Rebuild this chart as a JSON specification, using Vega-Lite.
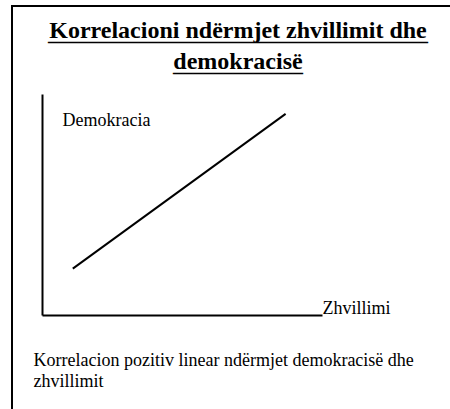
{
  "$schema": "https://vega.github.io/schema/vega-lite/v6.json",
  "width": 440,
  "height": 405,
  "autosize": {"type": "none"},
  "padding": {"left": 12, "top": 6, "right": -2, "bottom": -2},
  "background": "white",
  "config": {"view": {"stroke": "black", "strokeWidth": 2}, "font": "Liberation Serif"},
  "title": {
    "text": ["Korrelacioni ndërmjet zhvillimit dhe", "demokracisë"],
    "subtitle": ["______________________________________", "_____________"],
    "font": "Liberation Serif",
    "fontSize": 24,
    "fontWeight": "bold",
    "color": "black",
    "subtitleFont": "Liberation Serif",
    "subtitleFontSize": 20,
    "subtitleFontWeight": "bold",
    "subtitleColor": "black",
    "subtitleLineHeight": 31,
    "subtitlePadding": -53,
    "anchor": "middle",
    "frame": "group",
    "dx": 6,
    "offset": -88,
    "baseline": "alphabetic",
    "lineHeight": 31
  },
  "data": {"values": [
    {"zhvillimi": 1.1, "demokracia": 2.1},
    {"zhvillimi": 8.7, "demokracia": 9.1}
  ]},
  "mark": {"type": "line", "color": "black", "strokeWidth": 2},
  "encoding": {
    "x": {
      "field": "zhvillimi",
      "type": "quantitative",
      "scale": {"domain": [0, 10], "range": [30, 310]},
      "axis": {
        "offset": -96,
        "domain": true,
        "domainColor": "black",
        "domainWidth": 2,
        "ticks": false,
        "grid": false,
        "values": [10],
        "labelExpr": "'Zhvillimi'",
        "labelAlign": "left",
        "labelBaseline": "alphabetic",
        "labelPadding": -2,
        "labelFlush": false,
        "labelOverlap": false,
        "labelFont": "Liberation Serif",
        "labelFontSize": 18,
        "labelColor": "black",
        "title": ["Korrelacion pozitiv linear ndërmjet demokracisë dhe", "zhvillimit"],
        "titleX": 21,
        "titleY": 50,
        "titleAlign": "left",
        "titleBaseline": "alphabetic",
        "titleAngle": 0,
        "titleFont": "Liberation Serif",
        "titleFontSize": 18,
        "titleFontWeight": "normal",
        "titleLineHeight": 21,
        "titleColor": "black"
      }
    },
    "y": {
      "field": "demokracia",
      "type": "quantitative",
      "scale": {"domain": [0, 10], "range": [309, 88]},
      "axis": {
        "offset": -30,
        "domain": true,
        "domainColor": "black",
        "domainWidth": 2,
        "ticks": false,
        "labels": false,
        "grid": false,
        "title": "Demokracia",
        "titleX": 20,
        "titleY": 119,
        "titleAlign": "left",
        "titleBaseline": "alphabetic",
        "titleAngle": 0,
        "titleFont": "Liberation Serif",
        "titleFontSize": 18,
        "titleFontWeight": "normal",
        "titleColor": "black"
      }
    }
  }
}
